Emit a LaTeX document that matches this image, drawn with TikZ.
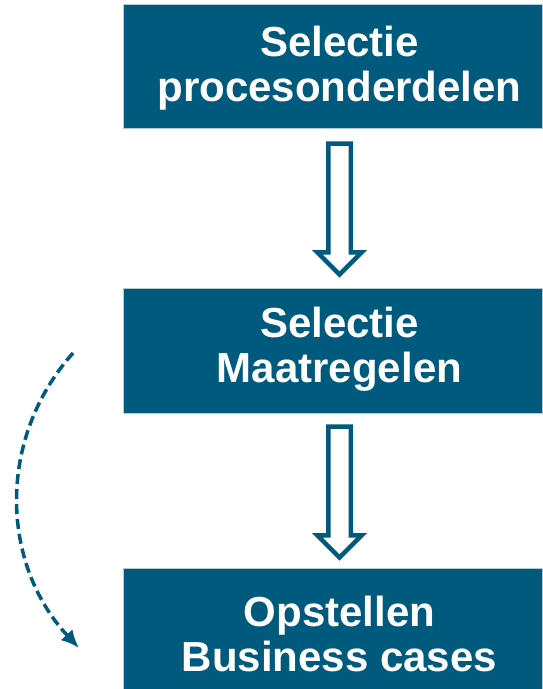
\documentclass[tikz,border=0pt]{standalone}
\usepackage{fontspec}
\setmainfont{Liberation Sans}
\usetikzlibrary{arrows.meta,positioning,calc,shapes.arrows}
\definecolor{stepblue}{RGB}{0,90,125}

\begin{document}
\begin{tikzpicture}[
  x=1pt, y=-1pt,
  >=Latex,
  box/.style={fill=stepblue, draw=stepblue!30, line width=0.6pt,
    minimum width=419pt, minimum height=124pt, inner sep=0pt},
  boxtext/.style={text=white, font=\fontsize{42}{45}\selectfont\bfseries,
    align=center, inner sep=0pt, xshift=7pt},
  blockarrow/.style={single arrow, draw=stepblue, fill=white, line width=4.5pt,
    shape border rotate=270, minimum height=131pt, minimum width=40pt,
    single arrow head extend=11pt, inner sep=9pt, anchor=tail},
  backarrow/.style={-{Latex[length=18pt,width=16pt]}, draw=stepblue,
    line width=3.5pt, dash pattern=on 10pt off 5pt}
]
  \useasboundingbox (0,0) rectangle (543,689);

  \node[box] (sel) at (332.5,66) {};
  \node[box, minimum height=125pt] (mat) at (332.5,350.5) {};
  \node[box] (bc) at (332.5,630) {};

  \node[boxtext, yshift=-2pt] (selT) at (sel.center) {Selectie\\procesonderdelen};
  \node[boxtext, yshift=1pt] (matT) at (mat.center) {Selectie\\Maatregelen};
  \node[boxtext, yshift=-4pt] (bcT) at (bc.center) {Opstellen\\Business cases};

  \node[blockarrow] (a1) at ($(sel.south)+(7,13)$) {};
  \node[blockarrow] (a2) at ($(mat.south)+(7,11)$) {};

  % feedback from the measures back down to the business cases
  \coordinate (d1) at (73,353);
  \coordinate (d2) at (79,648);
  \draw[backarrow] (d1) .. controls (-3.5,439) and (0.6,564) .. (d2);
\end{tikzpicture}
\end{document}
